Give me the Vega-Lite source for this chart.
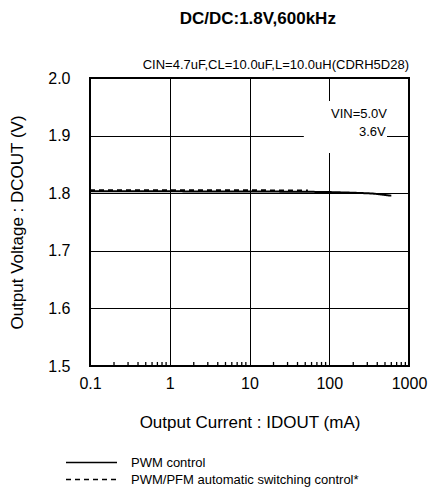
{
  "$schema": "https://vega.github.io/schema/vega-lite/v6.json",
  "background": "white",
  "padding": {"left": 7, "top": 10, "right": 0, "bottom": 0},
  "config": {
    "font": "Liberation Sans",
    "view": {"stroke": null},
    "title": {"color": "black"},
    "axis": {"labelColor": "black", "titleColor": "black"}
  },
  "title": {"text": "DC/DC:1.8V,600kHz", "fontSize": 17, "fontWeight": "bold", "anchor": "middle", "dx": 40, "offset": 30},
  "spacing": 23,
  "vconcat": [
    {
      "width": 319,
      "height": 288,
      "view": {"stroke": "black", "strokeWidth": 2},
      "title": {"text": "CIN=4.7uF,CL=10.0uF,L=10.0uH(CDRH5D28)", "anchor": "end", "frame": "group", "fontSize": 13, "fontWeight": "normal", "offset": -2},
      "layer": [
        {
          "data": {"values": [{"x1": 48, "x2": 530, "y1": 1.87, "y2": 1.96}]},
          "mark": {"type": "rect", "color": "white"},
          "encoding": {
            "x": {
              "field": "x1", "type": "quantitative",
              "scale": {"type": "log", "domain": [0.1, 1000], "nice": false},
              "axis": {
                "title": "Output Current : IDOUT (mA)",
                "titleFontSize": 17, "titleFontWeight": "normal", "titlePadding": 23,
                "values": [0.1, 1, 10, 100, 1000],
                "labelExpr": "toString(datum.value)",
                "labelFontSize": 16, "labelPadding": 9, "labelOverlap": false, "labelFlush": false,
                "ticks": false,
                "domain": false,
                "grid": true, "gridColor": "black", "gridWidth": 1,
                "zindex": 0
              }
            },
            "x2": {"field": "x2"},
            "y": {
              "field": "y1", "type": "quantitative",
              "scale": {"domain": [1.5, 2.0], "nice": false, "zero": false},
              "axis": {
                "title": "Output Voltage : DCOUT (V)",
                "titleFontSize": 17, "titleFontWeight": "normal", "titlePadding": 21,
                "values": [1.5, 1.6, 1.7, 1.8, 1.9, 2.0],
                "format": ".1f",
                "labelFontSize": 16, "labelPadding": 20,
                "ticks": false, "domain": false,
                "grid": true, "gridColor": "black", "gridWidth": 1,
                "zindex": 0
              }
            },
            "y2": {"field": "y2"}
          }
        },
        {
          "data": {"values": [
            {"current": 0.2}, {"current": 0.3}, {"current": 0.4}, {"current": 0.5}, {"current": 0.6}, {"current": 0.7}, {"current": 0.8}, {"current": 0.9},
            {"current": 2}, {"current": 3}, {"current": 4}, {"current": 5}, {"current": 6}, {"current": 7}, {"current": 8}, {"current": 9},
            {"current": 20}, {"current": 30}, {"current": 40}, {"current": 50}, {"current": 60}, {"current": 70}, {"current": 80}, {"current": 90},
            {"current": 200}, {"current": 300}, {"current": 400}, {"current": 500}, {"current": 600}, {"current": 700}, {"current": 800}, {"current": 900}
          ]},
          "mark": {"type": "rule", "color": "black", "strokeWidth": 1.3},
          "encoding": {
            "x": {"field": "current", "type": "quantitative"},
            "y": {"datum": 1.5, "type": "quantitative"},
            "y2": {"datum": 1.507}
          }
        },
        {
          "data": {"values": [
            {"current": 0.1, "voltage": 1.8033, "mode": "PWM control"},
            {"current": 1, "voltage": 1.8032, "mode": "PWM control"},
            {"current": 10, "voltage": 1.803, "mode": "PWM control"},
            {"current": 50, "voltage": 1.8025, "mode": "PWM control"},
            {"current": 100, "voltage": 1.802, "mode": "PWM control"},
            {"current": 200, "voltage": 1.8008, "mode": "PWM control"},
            {"current": 350, "voltage": 1.7995, "mode": "PWM control"},
            {"current": 600, "voltage": 1.7957, "mode": "PWM control"},
            {"current": 0.1, "voltage": 1.8052, "mode": "PWM/PFM automatic switching control*"},
            {"current": 1, "voltage": 1.8052, "mode": "PWM/PFM automatic switching control*"},
            {"current": 10, "voltage": 1.805, "mode": "PWM/PFM automatic switching control*"},
            {"current": 30, "voltage": 1.8048, "mode": "PWM/PFM automatic switching control*"},
            {"current": 54, "voltage": 1.8045, "mode": "PWM/PFM automatic switching control*"}
          ]},
          "mark": {"type": "line", "color": "black", "strokeWidth": 2},
          "encoding": {
            "x": {"field": "current", "type": "quantitative"},
            "y": {"field": "voltage", "type": "quantitative"},
            "strokeDash": {
              "field": "mode", "type": "nominal",
              "scale": {"domain": ["PWM control", "PWM/PFM automatic switching control*"], "range": [[1, 0], [5, 4]]},
              "legend": null
            }
          }
        },
        {
          "data": {"values": [
            {"current": 530, "voltage": 1.938, "label": "VIN=5.0V"},
            {"current": 510, "voltage": 1.906, "label": "3.6V"}
          ]},
          "mark": {"type": "text", "align": "right", "baseline": "middle", "fontSize": 13, "color": "black"},
          "encoding": {
            "x": {"field": "current", "type": "quantitative"},
            "y": {"field": "voltage", "type": "quantitative"},
            "text": {"field": "label"}
          }
        }
      ]
    },
    {
      "width": 51,
      "height": 34,
      "data": {"values": [
        {"mode": "PWM control"},
        {"mode": "PWM/PFM automatic switching control*"}
      ]},
      "encoding": {
        "y": {
          "field": "mode", "type": "nominal",
          "scale": {"type": "point", "padding": 0.5, "domain": ["PWM control", "PWM/PFM automatic switching control*"]},
          "axis": null
        }
      },
      "layer": [
        {
          "mark": {"type": "rule", "color": "black", "strokeWidth": 1.5, "xOffset": -24, "x2Offset": -24},
          "encoding": {
            "x": {"datum": 0, "type": "quantitative", "scale": {"domain": [0, 1], "nice": false}, "axis": null},
            "x2": {"datum": 1},
            "strokeDash": {
              "field": "mode", "type": "nominal",
              "scale": {"domain": ["PWM control", "PWM/PFM automatic switching control*"], "range": [[1, 0], [7, 4]]},
              "legend": null
            }
          }
        },
        {
          "mark": {"type": "text", "align": "left", "baseline": "middle", "fontSize": 13, "dx": -10, "color": "black"},
          "encoding": {
            "x": {"datum": 1, "type": "quantitative"},
            "text": {"field": "mode"}
          }
        }
      ]
    }
  ]
}
